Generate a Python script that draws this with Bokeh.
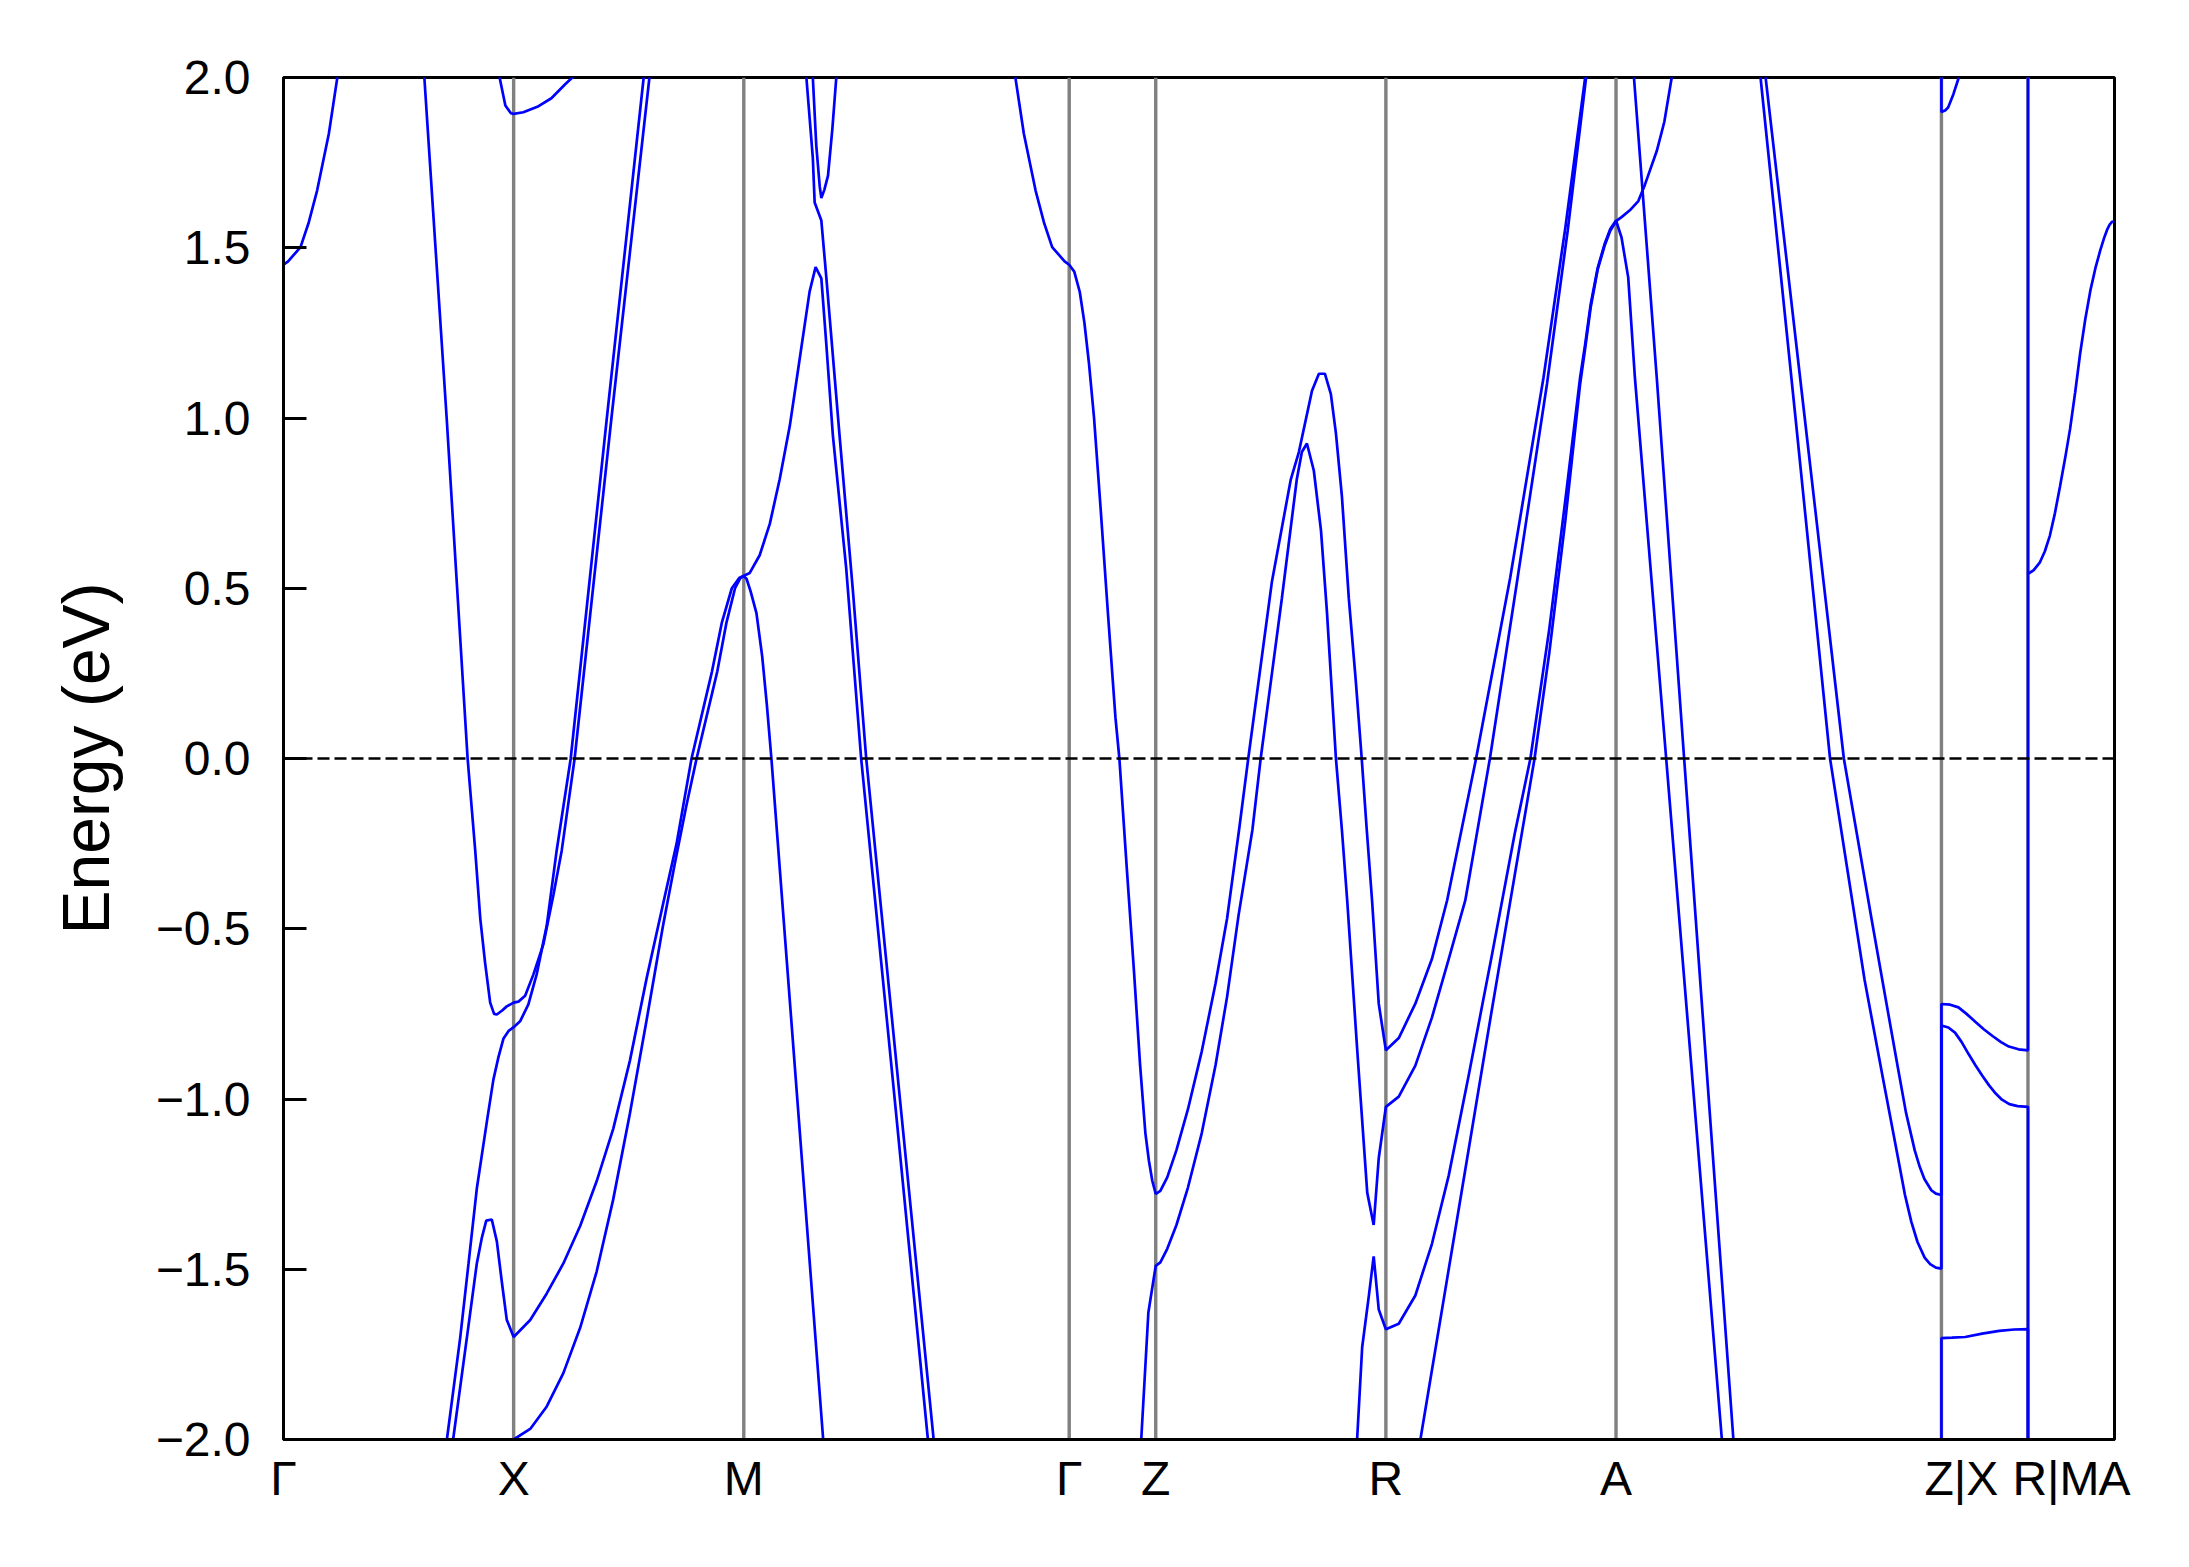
from bokeh.plotting import figure
from bokeh.models import Range1d, FixedTicker, CustomJSTickFormatter, Span
from bokeh.embed import file_html
from bokeh.resources import INLINE

# ---- high-symmetry path (k in units of the Gamma-X length) ----
tick_pos = [0.0, 1.0, 2.0, 3.414, 3.79, 4.79, 5.79, 7.204, 7.58, 7.956]
tick_lab = ["Γ", "X", "M", "Γ", "Z", "R", "A", "Z|X", "R|M", "A"]
y_ticks = [-2.0, -1.5, -1.0, -0.5, 0.0, 0.5, 1.0, 1.5, 2.0]
# composite labels (path discontinuities) sit a few pixels right of their line, as in the original
shifted_lab = {"Z|X": 20, "R|M": 28}

# ---- bands (k, E in eV) ----
b1_k = [0.0, 0.02, 0.074, 0.11, 0.146, 0.197, 0.233, 0.25]
b1_E = [1.45, 1.46, 1.502, 1.575, 1.668, 1.835, 1.996, 2.08]

b2_k = [0.93, 0.939, 0.964, 0.988, 1.0, 1.042, 1.103, 1.164, 1.224, 1.255, 1.27]
b2_E = [2.06, 2.0, 1.918, 1.895, 1.893, 1.898, 1.914, 1.939, 1.98, 2.0, 2.01]

b3_k = [0.60, 0.612, 0.709, 0.80, 0.833, 0.855, 0.876, 0.898, 0.915, 0.927, 0.95, 0.97,
        1.0, 1.021, 1.05, 1.086, 1.129, 1.173, 1.209, 1.265, 1.425, 1.59, 1.60]
b3_E = [2.12, 2.0, 1.0, 0.0, -0.27, -0.47, -0.60, -0.717, -0.75, -0.752, -0.74, -0.728,
        -0.717, -0.714, -0.697, -0.634, -0.546, -0.40, -0.27, 0.0, 1.0, 2.0, 2.06]

b4_k = [0.70, 0.710, 0.768, 0.804, 0.840, 0.884, 0.912, 0.934, 0.956, 0.978, 1.0, 1.028,
        1.064, 1.10, 1.144, 1.187, 1.248, 1.405, 1.565, 1.575]
b4_E = [-2.06, -2.0, -1.70, -1.483, -1.263, -1.065, -0.943, -0.877, -0.822, -0.80, -0.789, -0.772,
        -0.722, -0.634, -0.49, -0.27, 0.0, 1.0, 2.0, 2.06]

b5_k = [0.727, 0.737, 0.797, 0.840, 0.862, 0.881, 0.905, 0.927, 0.949, 0.970, 1.0, 1.072,
        1.144, 1.216, 1.289, 1.361, 1.433, 1.505, 1.578, 1.650, 1.708, 1.773, 1.862, 1.905,
        1.948, 1.98, 2.0, 2.026, 2.069, 2.113, 2.156, 2.2, 2.243, 2.286, 2.312, 2.337, 2.359,
        2.387, 2.445, 2.51, 2.66, 2.80, 2.81]
b5_E = [-2.06, -2.0, -1.70, -1.483, -1.407, -1.357, -1.354, -1.418, -1.539, -1.648, -1.699, -1.649,
        -1.571, -1.483, -1.373, -1.241, -1.087, -0.888, -0.645, -0.425, -0.25, 0.0, 0.256, 0.40,
        0.50, 0.53, 0.537, 0.545, 0.597, 0.689, 0.82, 0.977, 1.174, 1.371, 1.443, 1.41, 1.213,
        0.95, 0.559, 0.0, -1.03, -2.0, -2.07]

b6_k = [0.98, 1.0, 1.072, 1.144, 1.216, 1.289, 1.361, 1.432, 1.505, 1.578, 1.649, 1.70,
        1.75, 1.795, 1.885, 1.925, 1.962, 1.985, 2.0, 2.012, 2.03, 2.055, 2.08, 2.10, 2.12,
        2.345, 2.352]
b6_E = [-2.01, -2.0, -1.969, -1.903, -1.805, -1.672, -1.506, -1.297, -1.043, -0.767, -0.491, -0.31,
        -0.14, 0.0, 0.256, 0.40, 0.50, 0.53, 0.535, 0.528, 0.49, 0.427, 0.30, 0.16, 0.0,
        -2.0, -2.06]

b7_k = [2.265, 2.272, 2.30, 2.308, 2.337, 2.359, 2.416, 2.474, 2.532, 2.825, 2.832]
b7_E = [2.06, 2.0, 1.764, 1.633, 1.58, 1.41, 0.95, 0.494, 0.0, -2.0, -2.06]

b8_k = [2.295, 2.30, 2.315, 2.33, 2.337, 2.35, 2.366, 2.385, 2.402, 2.41]
b8_E = [2.05, 2.0, 1.80, 1.68, 1.646, 1.67, 1.712, 1.85, 2.0, 2.06]

b9_k = [3.17, 3.181, 3.217, 3.268, 3.304, 3.340, 3.394, 3.414, 3.436, 3.46, 3.48, 3.50,
        3.522, 3.552, 3.583, 3.615, 3.632, 3.665, 3.695, 3.722, 3.745, 3.76, 3.775, 3.79,
        3.81, 3.84, 3.88, 3.93, 3.99, 4.05, 4.10, 4.152, 4.192, 4.295, 4.377, 4.412,
        4.469, 4.499, 4.525, 4.551, 4.573, 4.599, 4.629, 4.659, 4.685, 4.707, 4.730, 4.759,
        4.79, 4.846, 4.918, 4.99, 5.056, 5.182, 5.33, 5.475, 5.57, 5.656, 5.67]
b9_E = [2.04, 1.996, 1.835, 1.668, 1.575, 1.502, 1.46, 1.45, 1.43, 1.37, 1.28, 1.16,
        1.0, 0.72, 0.42, 0.12, 0.0, -0.33, -0.62, -0.90, -1.10, -1.18, -1.24, -1.279,
        -1.27, -1.23, -1.15, -1.03, -0.86, -0.66, -0.47, -0.21, 0.0, 0.52, 0.82, 0.90,
        1.08, 1.13, 1.13, 1.07, 0.955, 0.77, 0.47, 0.23, 0.0, -0.21, -0.417, -0.72,
        -0.857, -0.821, -0.72, -0.589, -0.417, 0.0, 0.53, 1.119, 1.56, 2.0, 2.07]

b10_k = [3.72, 3.727, 3.758, 3.79, 3.81, 3.84, 3.88, 3.93, 3.99, 4.05, 4.10, 4.15, 4.21,
         4.246, 4.338, 4.403, 4.425, 4.447, 4.477, 4.508, 4.534, 4.573, 4.599, 4.622, 4.665,
         4.709, 4.737, 4.759, 4.79, 4.846, 4.918, 4.99, 5.063, 5.135, 5.242, 5.36, 5.49,
         5.58, 5.66, 5.675]
b10_E = [-2.08, -2.0, -1.627, -1.49, -1.48, -1.44, -1.37, -1.26, -1.10, -0.90, -0.70, -0.46, -0.21,
         0.0, 0.47, 0.82, 0.90, 0.925, 0.845, 0.67, 0.43, 0.0, -0.21, -0.417, -0.851,
         -1.275, -1.37, -1.174, -1.023, -0.993, -0.902, -0.761, -0.589, -0.417, 0.0, 0.52, 1.10,
         1.55, 2.0, 2.07]

b11_k = [4.655, 4.665, 4.687, 4.716, 4.737, 4.759, 4.79, 4.846, 4.918, 4.99, 5.063, 5.15,
         5.25, 5.35, 5.418, 5.5, 5.57, 5.634, 5.656, 5.68, 5.71, 5.74, 5.765, 5.79,
         5.814, 5.843, 5.872, 6.008, 6.25, 6.26]
b11_E = [-2.06, -2.0, -1.729, -1.578, -1.462, -1.618, -1.676, -1.66, -1.577, -1.426, -1.225, -0.93,
         -0.58, -0.22, 0.0, 0.38, 0.76, 1.119, 1.217, 1.334, 1.44, 1.51, 1.555, 1.58,
         1.53, 1.413, 1.119, 0.0, -2.0, -2.08]

b12_k = [4.93, 4.94, 5.1, 5.25, 5.436, 5.5, 5.57, 5.634, 5.656, 5.68, 5.71, 5.74, 5.765,
         5.79, 5.814, 5.85, 5.887, 5.916, 5.967, 6.0, 6.032, 6.04]
b12_E = [-2.04, -2.0, -1.35, -0.74, 0.0, 0.31, 0.70, 1.10, 1.205, 1.325, 1.435, 1.505, 1.55,
         1.578, 1.59, 1.61, 1.637, 1.686, 1.784, 1.87, 2.0, 2.04]

b13_k = [5.86, 5.868, 5.967, 6.086, 6.30, 6.31]
b13_E = [2.07, 2.0, 1.119, 0.0, -2.0, -2.09]

b14_k = [6.40, 6.418, 6.57, 6.72, 6.87, 6.95, 7.015, 7.045, 7.073, 7.10, 7.131, 7.155,
         7.18, 7.204, 7.204, 7.242, 7.278, 7.313, 7.351, 7.388, 7.426, 7.463, 7.497, 7.539,
         7.58, 7.58, 7.605, 7.631, 7.653, 7.675, 7.697, 7.719, 7.741, 7.763, 7.785, 7.807,
         7.829, 7.851, 7.873, 7.894, 7.91, 7.924, 7.935, 7.945, 7.956]
b14_E = [2.12, 2.0, 1.0, 0.0, -0.65, -0.94, -1.172, -1.28, -1.36, -1.42, -1.466, -1.485,
         -1.495, -1.498, -0.721, -0.723, -0.731, -0.75, -0.773, -0.795, -0.815, -0.833, -0.846, -0.854,
         -0.857, 0.542, 0.553, 0.575, 0.608, 0.654, 0.72, 0.798, 0.88, 0.968, 1.075, 1.191,
         1.29, 1.374, 1.44, 1.492, 1.527, 1.553, 1.568, 1.576, 1.578]

b15_k = [6.43, 6.44, 6.61, 6.78, 6.90, 6.96, 7.015, 7.05, 7.088, 7.11, 7.13, 7.16,
         7.18, 7.204, 7.204, 7.234, 7.263, 7.292, 7.322, 7.351, 7.381, 7.411, 7.44, 7.467,
         7.499, 7.535, 7.58, 7.58]
b15_E = [2.06, 2.0, 1.0, 0.0, -0.47, -0.70, -0.909, -1.04, -1.151, -1.20, -1.235, -1.268,
         -1.278, -1.282, -0.784, -0.79, -0.805, -0.833, -0.868, -0.90, -0.931, -0.96, -0.984, -1.002,
         -1.015, -1.021, -1.023, -2.3]

b16_k = [7.204, 7.204, 7.25, 7.307, 7.381, 7.455, 7.52, 7.58, 7.58]
b16_E = [-2.3, -1.702, -1.701, -1.699, -1.689, -1.681, -1.677, -1.676, -2.3]

b17_k = [7.204, 7.204, 7.22, 7.233, 7.256, 7.278, 7.30, 7.58, 7.58]
b17_E = [2.3, 1.899, 1.903, 1.912, 1.951, 1.997, 2.3, 2.3, 0.542]

bands = [(b1_k, b1_E), (b2_k, b2_E), (b3_k, b3_E), (b4_k, b4_E), (b5_k, b5_E),
         (b6_k, b6_E), (b7_k, b7_E), (b8_k, b8_E), (b9_k, b9_E), (b10_k, b10_E),
         (b11_k, b11_E), (b12_k, b12_E), (b13_k, b13_E), (b14_k, b14_E), (b15_k, b15_E),
         (b16_k, b16_E), (b17_k, b17_E)]

FONT = "Liberation Sans"
FRAME_W, FRAME_H = 1831, 1362
px_per_k = FRAME_W / (tick_pos[-1] - tick_pos[0])

p = figure(width=2173, height=1551,
           x_range=Range1d(tick_pos[0], tick_pos[-1]), y_range=Range1d(-2, 2),
           output_backend="svg", toolbar_location=None,
           min_border_left=283, min_border_right=59, min_border_top=77, min_border_bottom=112)
p.background_fill_color = "white"
p.border_fill_color = "white"
p.xgrid.visible = False
p.ygrid.visible = False
p.outline_line_color = "black"
p.outline_line_width = 3

# high-symmetry vertical lines
for x in tick_pos[1:-1]:
    p.add_layout(Span(location=x, dimension="height", line_color="#808080",
                      line_width=3.4, level="underlay"))

for k, e in bands:
    p.line(k, e, line_color="blue", line_width=2.7)

p.add_layout(Span(location=0, dimension="width", line_color="black",
                  line_width=2.6, line_dash="12 5", level="overlay"))

# x axis: no tick marks, so the ticker only places the labels
label_pos = [t + shifted_lab.get(s, 0) / px_per_k for t, s in zip(tick_pos, tick_lab)]
p.xaxis.ticker = FixedTicker(ticks=label_pos)
p.xaxis.formatter = CustomJSTickFormatter(args=dict(pos=label_pos, lab=tick_lab), code="""
    let best = 0, d = 1e9;
    for (let i = 0; i < pos.length; i++) {
        const dd = Math.abs(pos[i] - tick);
        if (dd < d) { d = dd; best = i; }
    }
    return lab[best];
""")
p.xaxis.major_tick_in = 0
p.xaxis.major_tick_out = 0
p.xaxis.minor_tick_line_color = None
p.xaxis.major_label_standoff = 12
p.xaxis.major_label_text_font = FONT
p.xaxis.major_label_text_font_size = "48px"
p.xaxis.major_label_text_color = "black"
p.xaxis.axis_line_width = 3

# y axis
p.yaxis.ticker = FixedTicker(ticks=y_ticks)
p.yaxis.formatter = CustomJSTickFormatter(code="""
    return (tick < -1e-9 ? '\u2212' : '') + Math.abs(tick).toFixed(1);
""")
p.yaxis.major_tick_in = 23
p.yaxis.major_tick_out = 0
p.yaxis.major_tick_line_width = 3
p.yaxis.minor_tick_line_color = None
p.yaxis.major_label_standoff = 33
p.yaxis.major_label_text_font = FONT
p.yaxis.major_label_text_font_size = "48px"
p.yaxis.major_label_text_color = "black"
p.yaxis.axis_line_width = 3
p.yaxis.axis_label = "Energy (eV)"
p.yaxis.axis_label_text_font = FONT
p.yaxis.axis_label_text_font_size = "66px"
p.yaxis.axis_label_text_font_style = "normal"
p.yaxis.axis_label_text_color = "black"
p.yaxis.axis_label_standoff = 30

open("out.html", "w").write(file_html(p, INLINE))
